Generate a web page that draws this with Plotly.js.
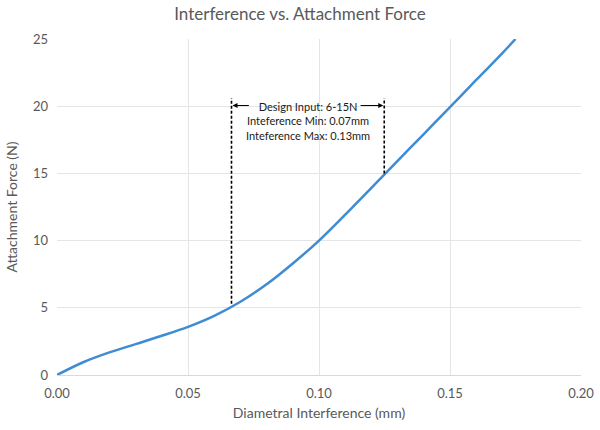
<!DOCTYPE html>
<html>
<head>
<meta charset="utf-8">
<script src="https://cdn.plot.ly/plotly-3.0.1.min.js"></script>
<style>html,body{margin:0;padding:0;background:#fff;}#chart{width:600px;height:430px;}</style>
</head>
<body>
<div id="chart"></div>
<script>
// Curve data
const interference = [0, 0.01, 0.02, 0.03, 0.04, 0.05, 0.06, 0.07, 0.08, 0.09, 0.10, 0.11, 0.12, 0.13, 0.14, 0.15, 0.16, 0.17, 0.175];
const force        = [0, 0.95, 1.68, 2.3, 2.92, 3.58, 4.4, 5.45, 6.75, 8.3, 10.0, 11.93, 13.93, 15.93, 17.93, 19.93, 21.95, 23.95, 25.0];

// Design input bounds (interference min/max and corresponding force)
const boundInterference = [0.0666, 0.1249];
const boundForce = [5.3, 15.0];
const boundTop = 20.6;

const annotationLines = ["Design Input: 6-15N", "Inteference Min: 0.07mm", "Inteference Max: 0.13mm"];

const xTicks = [0, 0.05, 0.10, 0.15, 0.20];
const xTickLabels = ["0.00", "0.05", "0.10", "0.15", "0.20"];
const yTicks = [0, 5, 10, 15, 20, 25];

const FONT = "Lato, 'Open Sans', sans-serif";
const GREY = "#595959";

const traces = [
  {
    x: interference, y: force, type: "scatter", mode: "lines",
    line: {color: "#3f8bd4", width: 2.5, shape: "spline", smoothing: 1},
    hoverinfo: "skip", showlegend: false
  }
];
boundInterference.forEach((bx, i) => {
  traces.push({
    x: [bx, bx], y: [boundForce[i], boundTop], type: "scatter", mode: "lines",
    line: {color: "#000000", width: 1.6, dash: "3px,2px"},
    hoverinfo: "skip", showlegend: false
  });
});

const arrowY = 20.05;
const layout = {
  width: 600, height: 430,
  margin: {l: 57, r: 19, t: 39, b: 55},
  paper_bgcolor: "#ffffff", plot_bgcolor: "#ffffff",
  font: {family: FONT, color: GREY},
  title: {text: "Interference vs. Attachment Force", font: {family: FONT, size: 17, color: GREY}, x: 0.5, xanchor: "center", y: 0.967, yanchor: "middle"},
  xaxis: {
    range: [0, 0.2], tickvals: xTicks, ticktext: xTickLabels,
    showgrid: true, gridcolor: "#e5e5e5", gridwidth: 1,
    zeroline: false, showline: true, linecolor: "#d9d9d9", linewidth: 1,
    ticks: "", tickfont: {family: FONT, size: 13, color: GREY}, ticklabelstandoff: 6,
    title: {text: "Diametral Interference (mm)", font: {family: FONT, size: 14, color: GREY}, standoff: 8},
    fixedrange: true
  },
  yaxis: {
    range: [0, 25], tickvals: yTicks,
    showgrid: true, gridcolor: "#e5e5e5", gridwidth: 1,
    zeroline: false, showline: false,
    ticks: "", tickfont: {family: FONT, size: 13, color: GREY}, ticklabelstandoff: 8,
    title: {text: "Attachment Force (N)", font: {family: FONT, size: 14, color: GREY}, standoff: 12},
    fixedrange: true
  },
  annotations: [
    {
      x: (boundInterference[0] + boundInterference[1]) / 2 + 0.0001, y: 20.62, xref: "x", yref: "y",
      text: annotationLines.join("<br>"), showarrow: false,
      xanchor: "center", yanchor: "top", align: "center",
      font: {family: FONT, size: 11, color: "#1a1a1a"}
    },
    {
      x: boundInterference[0], y: arrowY, ax: 0.0738, ay: arrowY, xref: "x", yref: "y", axref: "x", ayref: "y",
      text: "", showarrow: true, arrowhead: 2, arrowsize: 1, arrowwidth: 1, arrowcolor: "#000000", standoff: 1
    },
    {
      x: boundInterference[1], y: arrowY, ax: 0.1153, ay: arrowY, xref: "x", yref: "y", axref: "x", ayref: "y",
      text: "", showarrow: true, arrowhead: 2, arrowsize: 1, arrowwidth: 1, arrowcolor: "#000000", standoff: 1
    }
  ]
};

Plotly.newPlot("chart", traces, layout, {displayModeBar: false, staticPlot: true});
</script>
</body>
</html>
